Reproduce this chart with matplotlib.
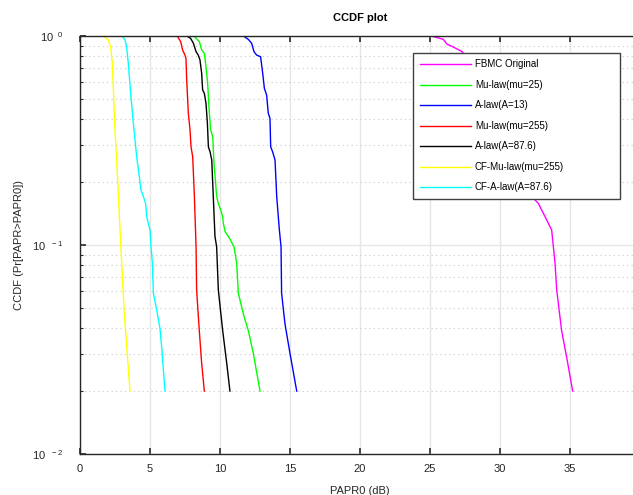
import matplotlib
matplotlib.use("Agg")
import matplotlib.pyplot as plt
from matplotlib.ticker import FixedLocator, LogLocator, NullFormatter

plt.rcParams.update({
    "font.family": ["Liberation Sans", "DejaVu Sans"],
    "font.size": 8,
    "mathtext.default": "regular",
})

# CCDF curves: (PAPR0 in dB, CCDF)
fbmc_x = [25.1, 25.95, 26.2, 26.7, 27.3, 28.5, 30.0, 31.2, 32.26, 32.74, 33.21, 33.69, 33.93, 34.05, 34.4, 34.76, 35.19]
fbmc_y = [1.0, 0.964, 0.916, 0.883, 0.841, 0.62, 0.40, 0.25, 0.171, 0.158, 0.137, 0.118, 0.082, 0.061, 0.039, 0.0291, 0.02]

mu25_x = [8.14, 8.52, 8.69, 8.88, 9.0, 9.12, 9.21, 9.33, 9.48, 9.57, 9.69, 9.76, 9.88, 10.0, 10.19, 10.24, 10.36, 10.67, 11.0, 11.19, 11.31, 11.71, 12.02, 12.38, 12.86]
mu25_y = [1.0, 0.94, 0.857, 0.827, 0.713, 0.593, 0.459, 0.355, 0.33, 0.246, 0.197, 0.171, 0.158, 0.150, 0.137, 0.127, 0.116, 0.108, 0.098, 0.082, 0.0588, 0.0456, 0.039, 0.0303, 0.02]

a13_x = [11.67, 12.02, 12.26, 12.43, 12.62, 12.9, 13.05, 13.17, 13.33, 13.45, 13.57, 13.62, 13.76, 13.93, 14.05, 14.24, 14.36, 14.4, 14.64, 15.0, 15.48]
a13_y = [1.0, 0.964, 0.923, 0.841, 0.81, 0.796, 0.663, 0.562, 0.522, 0.426, 0.404, 0.295, 0.279, 0.255, 0.171, 0.118, 0.098, 0.0588, 0.042, 0.0303, 0.02]

mu255_x = [6.95, 7.19, 7.33, 7.5, 7.57, 7.62, 7.74, 7.86, 7.93, 8.05, 8.17, 8.29, 8.33, 8.52, 8.69, 8.88]
mu255_y = [1.0, 0.94, 0.857, 0.81, 0.78, 0.616, 0.426, 0.355, 0.295, 0.264, 0.171, 0.098, 0.061, 0.039, 0.0272, 0.02]

a876_x = [7.62, 7.9, 8.1, 8.29, 8.45, 8.57, 8.69, 8.76, 8.88, 9.0, 9.1, 9.17, 9.29, 9.41, 9.52, 9.64, 9.76, 9.88, 10.19, 10.48, 10.71]
a876_y = [1.0, 0.975, 0.923, 0.841, 0.81, 0.768, 0.663, 0.552, 0.532, 0.476, 0.382, 0.295, 0.279, 0.255, 0.171, 0.11, 0.098, 0.061, 0.039, 0.0272, 0.02]

cfmu_x = [1.65, 2.02, 2.19, 2.31, 2.5, 2.69, 2.86, 2.98, 3.16, 3.34, 3.57]
cfmu_y = [1.0, 0.957, 0.889, 0.74, 0.355, 0.205, 0.118, 0.082, 0.0472, 0.0325, 0.02]

cfa_x = [3.02, 3.21, 3.33, 3.45, 3.64, 3.81, 3.93, 4.05, 4.21, 4.36, 4.48, 4.69, 4.76, 5.0, 5.07, 5.17, 5.24, 5.48, 5.71, 5.83, 6.07]
cfa_y = [1.0, 0.957, 0.889, 0.74, 0.512, 0.382, 0.318, 0.264, 0.220, 0.183, 0.174, 0.158, 0.137, 0.118, 0.098, 0.082, 0.0588, 0.0488, 0.040, 0.0327, 0.02]

series = [
    (fbmc_x, fbmc_y, "#FF00FF", "FBMC Original"),
    (mu25_x, mu25_y, "#00FF00", "Mu-law(mu=25)"),
    (a13_x, a13_y, "#0000FF", "A-law(A=13)"),
    (mu255_x, mu255_y, "#FF0000", "Mu-law(mu=255)"),
    (a876_x, a876_y, "#000000", "A-law(A=87.6)"),
    (cfmu_x, cfmu_y, "#FFFF00", "CF-Mu-law(mu=255)"),
    (cfa_x, cfa_y, "#00FFFF", "CF-A-law(A=87.6)"),
]

x_ticks = [0, 5, 10, 15, 20, 25, 30, 35, 40]
y_ticks = [1e-2, 1e-1, 1e0]
y_tick_labels = [r"$10^{\ \ -2}$", r"$10^{\ \ -1}$", r"$10^{\ \ 0}$"]

fig = plt.figure(figsize=(6.33, 4.95), dpi=100)
ax = fig.add_axes([80 / 633, 41 / 495, 560 / 633, 418 / 495])

for xs, ys, col, lab in series:
    ax.plot(xs, ys, color=col, lw=1.0, label=lab)

ax.set_yscale("log")
ax.set_xlim(0, 40)
ax.set_ylim(1e-2, 1e0)
ax.xaxis.set_major_locator(FixedLocator(x_ticks))
ax.yaxis.set_major_locator(FixedLocator(y_ticks))
ax.set_yticklabels(y_tick_labels)
ax.yaxis.set_minor_locator(LogLocator(base=10, subs=range(2, 10)))
ax.yaxis.set_minor_formatter(NullFormatter())

ax.grid(True, which="major", color="#E6E6E6", lw=1.0, ls="-")
ax.grid(True, which="minor", axis="y", color="#C8C8C8", lw=0.8, ls=(0, (1, 3)))
ax.set_axisbelow(True)

ax.tick_params(which="both", direction="in", top=True, right=True, labelsize=8,
               colors="#262626", labelcolor="#262626")
ax.tick_params(which="major", length=4, width=1.2)
ax.tick_params(which="minor", length=2.5, width=0.8)
ax.tick_params(axis="x", pad=7)
ax.tick_params(axis="y", pad=12)
for sp in ax.spines.values():
    sp.set_color("#262626")
    sp.set_linewidth(1.0)

ax.set_title("CCDF plot", fontsize=8, fontweight="bold", pad=11)
ax.set_xlabel("PAPR0 (dB)", fontsize=8, labelpad=9, color="#262626")
ax.set_ylabel("CCDF (Pr[PAPR>PAPR0])", fontsize=8, labelpad=6, color="#262626")

leg = ax.legend(loc="upper left", bbox_to_anchor=(0.595, 0.615, 0.369, 0.344),
                mode="expand", fontsize=7, frameon=True, fancybox=False,
                edgecolor="#404040", framealpha=1.0, handlelength=5.3,
                handletextpad=0.4, labelspacing=1.08, borderpad=0.65,
                borderaxespad=0.0)
leg.get_frame().set_linewidth(1.0)

fig.savefig("out.png", dpi=100, facecolor="white")
